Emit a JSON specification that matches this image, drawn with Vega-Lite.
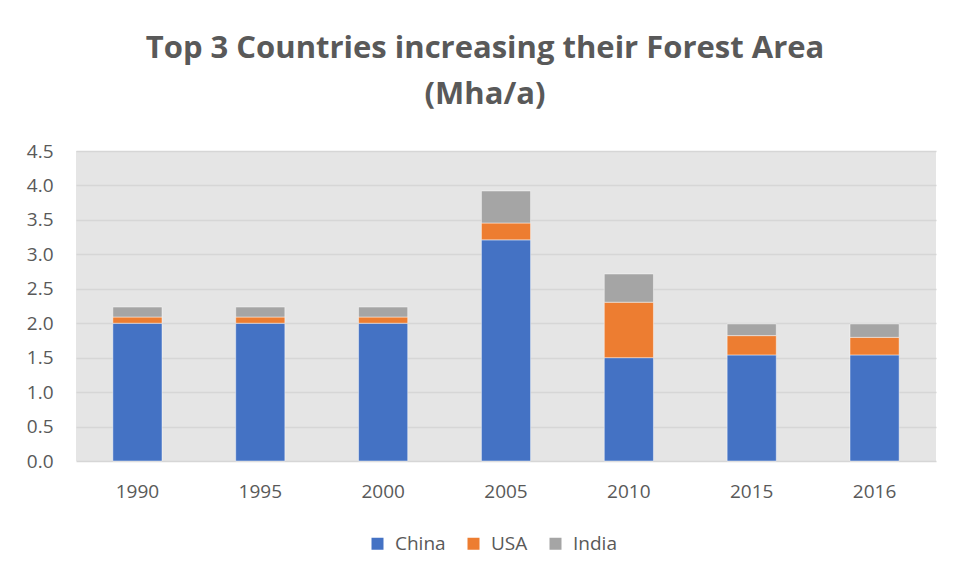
{
  "$schema": "https://vega.github.io/schema/vega-lite/v6.json",
  "autosize": {"type": "none"},
  "width": 860,
  "height": 310,
  "padding": {"left": 76, "top": 151, "right": 17, "bottom": 118},
  "background": "#ffffff",
  "title": {
    "text": ["Top 3 Countries increasing their Forest Area", "(Mha/a)"],
    "font": "Open Sans",
    "fontSize": 31,
    "fontWeight": "bold",
    "color": "#595959",
    "lineHeight": 46,
    "anchor": "middle",
    "dx": -21,
    "offset": 31
  },
  "config": {
    "view": {"fill": "#e5e5e5", "stroke": null},
    "font": "Open Sans"
  },
  "data": {
    "values": [
      {"year": "1990", "country": "China", "value": 2.0, "order": 1},
      {"year": "1990", "country": "USA", "value": 0.09, "order": 2},
      {"year": "1990", "country": "India", "value": 0.145, "order": 3},
      {"year": "1995", "country": "China", "value": 2.0, "order": 1},
      {"year": "1995", "country": "USA", "value": 0.09, "order": 2},
      {"year": "1995", "country": "India", "value": 0.145, "order": 3},
      {"year": "2000", "country": "China", "value": 2.0, "order": 1},
      {"year": "2000", "country": "USA", "value": 0.09, "order": 2},
      {"year": "2000", "country": "India", "value": 0.145, "order": 3},
      {"year": "2005", "country": "China", "value": 3.21, "order": 1},
      {"year": "2005", "country": "USA", "value": 0.245, "order": 2},
      {"year": "2005", "country": "India", "value": 0.465, "order": 3},
      {"year": "2010", "country": "China", "value": 1.5, "order": 1},
      {"year": "2010", "country": "USA", "value": 0.805, "order": 2},
      {"year": "2010", "country": "India", "value": 0.41, "order": 3},
      {"year": "2015", "country": "China", "value": 1.54, "order": 1},
      {"year": "2015", "country": "USA", "value": 0.28, "order": 2},
      {"year": "2015", "country": "India", "value": 0.17, "order": 3},
      {"year": "2016", "country": "China", "value": 1.54, "order": 1},
      {"year": "2016", "country": "USA", "value": 0.255, "order": 2},
      {"year": "2016", "country": "India", "value": 0.195, "order": 3}
    ]
  },
  "mark": {"type": "bar", "stroke": "#ffffff", "strokeWidth": 1, "strokeOpacity": 0.45},
  "encoding": {
    "x": {
      "field": "year",
      "type": "ordinal",
      "scale": {"paddingInner": 0.6, "paddingOuter": 0.3},
      "axis": {
        "title": null,
        "labelAngle": 0,
        "domain": false,
        "ticks": false,
        "labelFontSize": 19,
        "labelColor": "#595959",
        "labelPadding": 21,
        "grid": false
      }
    },
    "y": {
      "field": "value",
      "type": "quantitative",
      "stack": "zero",
      "scale": {"domain": [0, 4.5], "nice": false},
      "axis": {
        "title": null,
        "values": [0, 0.5, 1, 1.5, 2, 2.5, 3, 3.5, 4, 4.5],
        "format": ".1f",
        "domain": false,
        "ticks": false,
        "labelFontSize": 19,
        "labelColor": "#595959",
        "labelPadding": 23,
        "gridColor": "#d6d6d6",
        "gridWidth": 1.5
      }
    },
    "color": {
      "field": "country",
      "type": "nominal",
      "sort": ["China", "USA", "India"],
      "scale": {"domain": ["China", "USA", "India"], "range": ["#4472c4", "#ed7d31", "#a5a5a5"]},
      "legend": {
        "title": null,
        "orient": "none",
        "direction": "horizontal",
        "legendX": 292,
        "legendY": 383,
        "symbolType": "square",
        "symbolSize": 144,
        "symbolStrokeWidth": 0,
        "labelFontSize": 19,
        "labelColor": "#595959",
        "labelOffset": 8,
        "columnPadding": 18
      }
    },
    "order": {"field": "order", "type": "quantitative"}
  }
}
